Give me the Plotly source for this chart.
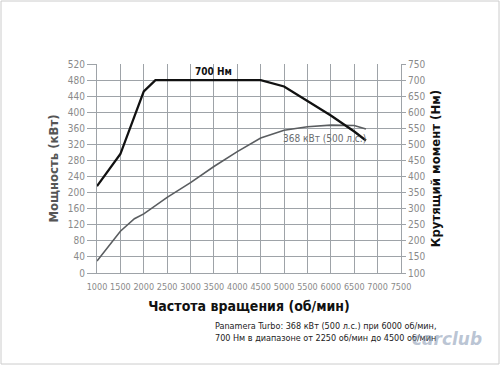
import plotly.graph_objects as go

rpm_torque = [1000, 1500, 2000, 2250, 4500, 5000, 5500, 6000, 6500, 6750]
torque_nm = [370, 470, 665, 700, 700, 680, 635, 590, 540, 512]

rpm_power = [1000, 1500, 1800, 2000, 2500, 3000, 3500, 4000, 4500, 5000, 5500, 6000, 6500, 6750]
power_kw = [30, 104, 135, 147, 188, 225, 265, 302, 336, 355, 364, 368, 367, 358]

x_ticks = list(range(1000, 7501, 500))
y_ticks = list(range(0, 521, 40))
y2_ticks = list(range(100, 751, 50))

FONT = "Liberation Sans Narrow, DejaVu Sans Condensed, Arial Narrow, sans-serif"
GRID = "#9ea3a8"
TICKC = "#8a8a8a"

fig = go.Figure()
fig.add_trace(go.Scatter(x=rpm_power, y=power_kw, mode="lines",
                         line=dict(color="#5a5d60", width=1.6), yaxis="y", showlegend=False))
fig.add_trace(go.Scatter(x=rpm_torque, y=torque_nm, mode="lines",
                         line=dict(color="#111111", width=2.3), yaxis="y2", showlegend=False))

fig.add_annotation(x=3500, y=700, yref="y2", text="<b>700 Нм</b>", showarrow=False,
                   yshift=9, font=dict(family=FONT, size=10, color="#111"))
fig.add_annotation(x=5870, y=368, yref="y", text="368 кВт (500 л.с.)", showarrow=False,
                   xanchor="center", yshift=-13, font=dict(family=FONT, size=10, color="#6a6d70"))

fig.update_layout(
    width=500, height=365,
    margin=dict(l=97, r=99, t=64, b=92),
    paper_bgcolor="white", plot_bgcolor="white",
    font=dict(family=FONT, color=TICKC, size=10),
    xaxis=dict(range=[1000, 7500], tickvals=x_ticks, ticktext=[str(v) for v in x_ticks],
               showgrid=True, gridcolor=GRID, gridwidth=1, zeroline=False, automargin=False,
               showline=True, linecolor=GRID, ticks="", ticklabelstandoff=5, tickangle=0,
               tickfont=dict(family=FONT, size=9, color=TICKC),
               title=dict(text="<b>Частота вращения (об/мин)</b>", standoff=10,
                          font=dict(family=FONT, size=14, color="#111"))),
    yaxis=dict(range=[0, 520], tickvals=y_ticks, showgrid=True, gridcolor=GRID, gridwidth=1,
               zeroline=False, showline=True, linecolor=GRID, ticks="outside", ticklen=9,
               automargin=False,
               tickcolor=GRID, tickfont=dict(family=FONT, size=10, color=TICKC),
               title=dict(text="<b>Мощность (кВт)</b>", standoff=6,
                          font=dict(family=FONT, size=13, color="#555"))),
    yaxis2=dict(range=[100, 750], tickvals=y2_ticks, overlaying="y", side="right",
                showgrid=False, zeroline=False, showline=True, linecolor=GRID,
                ticks="outside", ticklen=4, tickcolor=GRID, automargin=False,
                tickfont=dict(family=FONT, size=10, color=TICKC),
                title=dict(text="<b>Крутящий момент (Нм)</b>", standoff=6,
                           font=dict(family=FONT, size=13, color="#111"))),
)

fig.add_annotation(xref="paper", yref="paper", x=(213 - 97) / 304, y=-(332 - 273) / 209,
                   xanchor="left", yanchor="middle", align="left", showarrow=False,
                   text="Panamera Turbo: 368 кВт (500 л.с.) при 6000 об/мин,<br>700 Нм в диапазоне от 2250 об/мин до 4500 об/мин",
                   font=dict(family=FONT, size=9, color="#222"))
fig.add_annotation(xref="paper", yref="paper", x=(447 - 97) / 304, y=-(339 - 273) / 209,
                   xanchor="center", yanchor="middle", showarrow=False,
                   text="<b><i>carclub</i></b>",
                   font=dict(family="DejaVu Sans, sans-serif", size=17, color="rgba(120,140,170,0.5)"))

fig.add_shape(type="rect", xref="paper", yref="paper",
              x0=-96 / 304, x1=1 + 98 / 304, y0=-91 / 209, y1=1 + 63 / 209,
              line=dict(color="#cccccc", width=1))

fig.write_html("out.html", config={"displayModeBar": False},
               post_script="document.body.style.margin='0';document.body.style.overflow='hidden';")
